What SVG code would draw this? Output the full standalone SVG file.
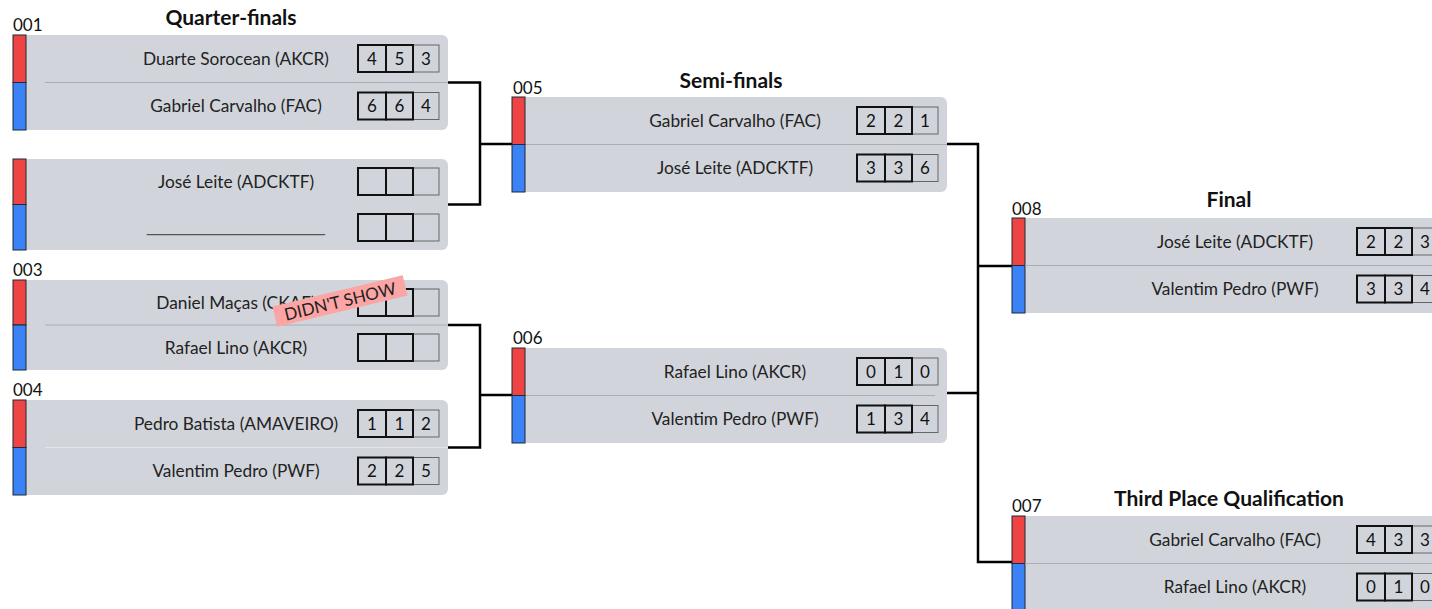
<svg xmlns="http://www.w3.org/2000/svg" width="1432" height="609" viewBox="0 0 1432 609">
<style>
text{font-family:"Lato","Noto Sans","Liberation Sans",sans-serif;}
.bg{fill:#d1d5db;}
.red{fill:#ef4444;stroke:#1f2937;stroke-width:1;}
.blue{fill:#3b82f6;stroke:#1f2937;stroke-width:1;}
.sep{stroke:#a9acb2;stroke-width:1;}
.name{font-size:17.3px;fill:#222;text-anchor:middle;}
.num{font-size:17px;fill:#111;text-anchor:middle;}
.lbl{font-size:17px;fill:#111;}
.title{font-size:21px;font-weight:bold;fill:#111;text-anchor:middle;}
.sb{fill:none;stroke:#111;stroke-width:2;}
.st{fill:none;stroke:#666;stroke-width:1;}
.conn{fill:none;stroke:#000;stroke-width:2.5;}
</style>
<text class="title" x="231" y="25">Quarter-finals</text>
<text class="title" x="731" y="88">Semi-finals</text>
<text class="title" x="1229" y="207">Final</text>
<text class="title" x="1229" y="506">Third Place Qualification</text>

<g id="connectors">
<path class="conn" d="M448,82.5 H480 V204.5 H448 M480,144 H512"/>
<path class="conn" d="M448,325 H480 V447.5 H448 M480,395 H512"/>
<path class="conn" d="M947,144 H978 V562 H1012 M947,393 H978 M978,266 H1012"/>
</g>

<g id="m001">
<text class="lbl" x="13" y="31">001</text>
<rect class="bg" x="13" y="35" width="435" height="95" rx="6"/>
<rect class="red" x="13" y="35" width="13" height="47.5"/>
<rect class="blue" x="13" y="82.5" width="13" height="47.5"/>
<line class="sep" x1="45" y1="82.5" x2="448" y2="82.5"/>
<text class="name" x="236" y="64.5">Duarte Sorocean (AKCR)</text>
<text class="name" x="236" y="112">Gabriel Carvalho (FAC)</text>
<rect class="st" x="413" y="45" width="26" height="27"/><rect class="sb" x="358" y="45" width="28" height="27"/><rect class="sb" x="386" y="45" width="27" height="27"/>
<rect class="st" x="413" y="92.5" width="26" height="27"/><rect class="sb" x="358" y="92.5" width="28" height="27"/><rect class="sb" x="386" y="92.5" width="27" height="27"/>
<text class="num" x="372" y="64.5">4</text><text class="num" x="399.5" y="64.5">5</text><text class="num" x="426" y="64.5">3</text>
<text class="num" x="372" y="112">6</text><text class="num" x="399.5" y="112">6</text><text class="num" x="426" y="112">4</text>
</g>

<g id="m002">
<rect class="bg" x="13" y="159" width="435" height="91" rx="6"/>
<rect class="red" x="13" y="159" width="13" height="45.5"/>
<rect class="blue" x="13" y="204.5" width="13" height="45.5"/>
<text class="name" x="236" y="188">José Leite (ADCKTF)</text>
<text x="236" y="232" style="font-family:'Liberation Sans',Arial,sans-serif;font-size:16px;fill:#555;text-anchor:middle;">____________________</text>
<rect class="st" x="413" y="168" width="26" height="27"/><rect class="sb" x="358" y="168" width="28" height="27"/><rect class="sb" x="386" y="168" width="27" height="27"/>
<rect class="st" x="413" y="214" width="26" height="27"/><rect class="sb" x="358" y="214" width="28" height="27"/><rect class="sb" x="386" y="214" width="27" height="27"/>
</g>

<g id="m003">
<text class="lbl" x="13" y="276">003</text>
<rect class="bg" x="13" y="280" width="435" height="90" rx="6"/>
<rect class="red" x="13" y="280" width="13" height="45"/>
<rect class="blue" x="13" y="325" width="13" height="45"/>
<line class="sep" x1="45" y1="325" x2="448" y2="325"/>
<text class="name" x="236" y="308.5">Daniel Maças (CKAF)</text>
<text class="name" x="236" y="353.5">Rafael Lino (AKCR)</text>
<rect class="st" x="413" y="289" width="26" height="27"/><rect class="sb" x="358" y="289" width="28" height="27"/><rect class="sb" x="386" y="289" width="27" height="27"/>
<rect class="st" x="413" y="334" width="26" height="27"/><rect class="sb" x="358" y="334" width="28" height="27"/><rect class="sb" x="386" y="334" width="27" height="27"/>
<g transform="translate(340,301) rotate(-13.5)">
<rect x="-67" y="-10.5" width="134" height="21" fill="#fca5a5"/>
<text x="0" y="6.5" style="font-size:17px;fill:#222;text-anchor:middle;">DIDN'T SHOW</text>
</g>
</g>

<g id="m004">
<text class="lbl" x="13" y="396">004</text>
<rect class="bg" x="13" y="400" width="435" height="95" rx="6"/>
<rect class="red" x="13" y="400" width="13" height="47.5"/>
<rect class="blue" x="13" y="447.5" width="13" height="47.5"/>
<line x1="45" y1="447.5" x2="448" y2="447.5" stroke="#e3e5e9" stroke-width="1"/>
<text class="name" x="236" y="429.5">Pedro Batista (AMAVEIRO)</text>
<text class="name" x="236" y="477">Valentim Pedro (PWF)</text>
<rect class="st" x="413" y="410" width="26" height="27"/><rect class="sb" x="358" y="410" width="28" height="27"/><rect class="sb" x="386" y="410" width="27" height="27"/>
<rect class="st" x="413" y="457.5" width="26" height="27"/><rect class="sb" x="358" y="457.5" width="28" height="27"/><rect class="sb" x="386" y="457.5" width="27" height="27"/>
<text class="num" x="372" y="429.5">1</text><text class="num" x="399.5" y="429.5">1</text><text class="num" x="426" y="429.5">2</text>
<text class="num" x="372" y="477">2</text><text class="num" x="399.5" y="477">2</text><text class="num" x="426" y="477">5</text>
</g>

<g id="m005">
<text class="lbl" x="513" y="94">005</text>
<rect class="bg" x="512" y="97" width="435" height="95" rx="6"/>
<rect class="red" x="512" y="97" width="13" height="47.5"/>
<rect class="blue" x="512" y="144.5" width="13" height="47.5"/>
<line class="sep" x1="526" y1="144.5" x2="947" y2="144.5"/>
<text class="name" x="735" y="126.5">Gabriel Carvalho (FAC)</text>
<text class="name" x="735" y="174">José Leite (ADCKTF)</text>
<rect class="st" x="912" y="107" width="26" height="27"/><rect class="sb" x="857" y="107" width="28" height="27"/><rect class="sb" x="885" y="107" width="27" height="27"/>
<rect class="st" x="912" y="154.5" width="26" height="27"/><rect class="sb" x="857" y="154.5" width="28" height="27"/><rect class="sb" x="885" y="154.5" width="27" height="27"/>
<text class="num" x="871" y="126.5">2</text><text class="num" x="898.5" y="126.5">2</text><text class="num" x="925" y="126.5">1</text>
<text class="num" x="871" y="174">3</text><text class="num" x="898.5" y="174">3</text><text class="num" x="925" y="174">6</text>
</g>

<g id="m006">
<text class="lbl" x="513" y="344">006</text>
<rect class="bg" x="512" y="348" width="435" height="95" rx="6"/>
<rect class="red" x="512" y="348" width="13" height="47.5"/>
<rect class="blue" x="512" y="395.5" width="13" height="47.5"/>
<line class="sep" x1="526" y1="395.5" x2="935" y2="395.5"/>
<text class="name" x="735" y="377.5">Rafael Lino (AKCR)</text>
<text class="name" x="735" y="425">Valentim Pedro (PWF)</text>
<rect class="st" x="912" y="358" width="26" height="27"/><rect class="sb" x="857" y="358" width="28" height="27"/><rect class="sb" x="885" y="358" width="27" height="27"/>
<rect class="st" x="912" y="405.5" width="26" height="27"/><rect class="sb" x="857" y="405.5" width="28" height="27"/><rect class="sb" x="885" y="405.5" width="27" height="27"/>
<text class="num" x="871" y="377.5">0</text><text class="num" x="898.5" y="377.5">1</text><text class="num" x="925" y="377.5">0</text>
<text class="num" x="871" y="425">1</text><text class="num" x="898.5" y="425">3</text><text class="num" x="925" y="425">4</text>
</g>

<g id="m008">
<text class="lbl" x="1012" y="215">008</text>
<rect class="bg" x="1012" y="218" width="440" height="95" rx="6"/>
<rect class="red" x="1012" y="218" width="13" height="47.5"/>
<rect class="blue" x="1012" y="265.5" width="13" height="47.5"/>
<line class="sep" x1="1025" y1="265.5" x2="1432" y2="265.5"/>
<text class="name" x="1235" y="247.5">José Leite (ADCKTF)</text>
<text class="name" x="1235" y="295">Valentim Pedro (PWF)</text>
<rect class="st" x="1412" y="228" width="26" height="27"/><rect class="sb" x="1357" y="228" width="28" height="27"/><rect class="sb" x="1385" y="228" width="27" height="27"/>
<rect class="st" x="1412" y="275.5" width="26" height="27"/><rect class="sb" x="1357" y="275.5" width="28" height="27"/><rect class="sb" x="1385" y="275.5" width="27" height="27"/>
<text class="num" x="1371" y="247.5">2</text><text class="num" x="1398.5" y="247.5">2</text><text class="num" x="1425" y="247.5">3</text>
<text class="num" x="1371" y="295">3</text><text class="num" x="1398.5" y="295">3</text><text class="num" x="1425" y="295">4</text>
</g>

<g id="m007">
<text class="lbl" x="1012" y="512">007</text>
<rect class="bg" x="1012" y="516" width="440" height="95" rx="6"/>
<rect class="red" x="1012" y="516" width="13" height="47.5"/>
<rect class="blue" x="1012" y="563.5" width="13" height="47.5"/>
<line class="sep" x1="1025" y1="563.5" x2="1432" y2="563.5"/>
<text class="name" x="1235" y="545.5">Gabriel Carvalho (FAC)</text>
<text class="name" x="1235" y="593">Rafael Lino (AKCR)</text>
<rect class="st" x="1412" y="526" width="26" height="27"/><rect class="sb" x="1357" y="526" width="28" height="27"/><rect class="sb" x="1385" y="526" width="27" height="27"/>
<rect class="st" x="1412" y="573.5" width="26" height="27"/><rect class="sb" x="1357" y="573.5" width="28" height="27"/><rect class="sb" x="1385" y="573.5" width="27" height="27"/>
<text class="num" x="1371" y="545.5">4</text><text class="num" x="1398.5" y="545.5">3</text><text class="num" x="1425" y="545.5">3</text>
<text class="num" x="1371" y="593">0</text><text class="num" x="1398.5" y="593">1</text><text class="num" x="1425" y="593">0</text>
</g>
</svg>
